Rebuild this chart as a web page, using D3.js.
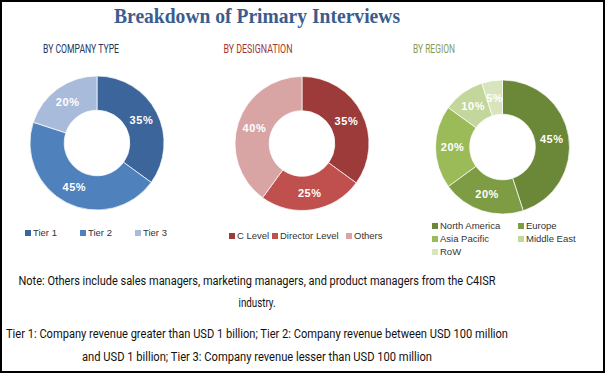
<!DOCTYPE html>
<html>
<head>
<meta charset="utf-8">
<script src="https://cdn.jsdelivr.net/npm/d3@7"></script>
<style>
  body { margin: 0; background: #fff; }
  svg { display: block; }
</style>
</head>
<body>
<svg id="chart"></svg>
<script>
// size of the picture
var width = 605,
    height = 373;

// data
var companyTypes = ["Tier 1", "Tier 2", "Tier 3"];
var companyShares = [35, 45, 20];

var designations = ["C Level", "Director Level", "Others"];
var designationShares = [35, 25, 40];

var regions = ["North America", "Europe", "Asia Pacific", "Middle East", "RoW"];
var regionShares = [45, 20, 20, 10, 5];

var notes = [
  "Note: Others include sales managers, marketing managers, and product managers from the C4ISR",
  "industry.",
  "Tier 1: Company revenue greater than USD 1 billion; Tier 2: Company revenue between USD 100 million",
  "and USD 1 billion; Tier 3: Company revenue lesser than USD 100 million"
];

var svg = d3.select("#chart")
    .attr("width", width)
    .attr("height", height);

// frame
svg.append("rect")
    .attr("x", 1).attr("y", 1)
    .attr("width", width - 2).attr("height", height - 2)
    .attr("fill", "#fff")
    .attr("stroke", "#000")
    .attr("stroke-width", 2);

// title
svg.append("text")
    .attr("x", 257).attr("y", 23)
    .attr("text-anchor", "middle")
    .attr("font-family", "Liberation Serif, serif")
    .attr("font-weight", "bold")
    .attr("font-size", 21)
    .attr("fill", "#3b5d8d")
    .attr("textLength", 286)
    .attr("lengthAdjust", "spacingAndGlyphs")
    .text("Breakdown of Primary Interviews");

var pie = d3.pie().sort(null).value(function(d) { return d.value; });

// one donut with its heading and legend
function donut(opts) {
  var g = svg.append("g");

  g.append("text")
      .attr("x", opts.headX).attr("y", 53)
      .attr("text-anchor", "middle")
      .attr("font-family", "Roboto, sans-serif")
      .attr("font-size", 12.5)
      .attr("fill", opts.headColor)
      .attr("textLength", opts.headLen)
      .attr("lengthAdjust", "spacingAndGlyphs")
      .text(opts.head);

  var data = opts.names.map(function(n, i) { return {name: n, value: opts.values[i]}; });
  var color = d3.scaleOrdinal().domain(opts.names).range(opts.colors);
  var arc = d3.arc().innerRadius(opts.r * 0.49).outerRadius(opts.r);

  var pg = g.append("g").attr("transform", "translate(" + opts.cx + "," + opts.cy + ")");
  var arcs = pie(data);

  pg.selectAll("path")
    .data(arcs)
    .enter().append("path")
      .attr("d", arc)
      .attr("fill", function(d) { return color(d.data.name); })
      .attr("stroke", "#fff")
      .attr("stroke-width", 0.7);

  pg.selectAll("text")
    .data(arcs)
    .enter().append("text")
      .attr("transform", function(d) { return "translate(" + arc.centroid(d) + ")"; })
      .attr("dy", "0.35em")
      .attr("text-anchor", "middle")
      .attr("font-family", "Liberation Sans, sans-serif")
      .attr("font-weight", "bold")
      .attr("font-size", 11)
      .attr("letter-spacing", 0.6)
      .attr("fill", "#fff")
      .text(function(d) { return d.data.value + "%"; });

  // legend
  var lg = g.selectAll(".leg")
    .data(data)
    .enter().append("g")
      .attr("transform", function(d, i) { return "translate(" + opts.legX[i] + "," + opts.legY[i] + ")"; });

  lg.append("rect")
      .attr("x", 0).attr("y", -3)
      .attr("width", 6).attr("height", 6)
      .attr("fill", function(d) { return color(d.name); });

  lg.append("text")
      .attr("x", 8).attr("y", 0)
      .attr("dy", "0.35em")
      .attr("font-family", "Liberation Sans, sans-serif")
      .attr("font-size", 9.5)
      .attr("fill", "#333")
      .text(function(d) { return d.name; });
}

donut({
  head: "BY COMPANY TYPE", headX: 81, headLen: 76, headColor: "#283558",
  names: companyTypes, values: companyShares,
  colors: ["#3c659b", "#4f81bd", "#a9bbdb"],
  cx: 97, cy: 143, r: 67,
  legX: [25, 80, 135], legY: [233, 233, 233]
});

donut({
  head: "BY DESIGNATION", headX: 258, headLen: 69, headColor: "#a43735",
  names: designations, values: designationShares,
  colors: ["#9c3b39", "#c0504d", "#d9a5a4"],
  cx: 302, cy: 143.5, r: 67,
  legX: [229, 272, 346], legY: [236, 236, 236]
});

donut({
  head: "BY REGION", headX: 434, headLen: 42, headColor: "#8a9c4a",
  names: regions, values: regionShares,
  colors: ["#6b8838", "#7d9c44", "#9bbb59", "#c3d69b", "#d8e4bc"],
  cx: 502.5, cy: 147, r: 67,
  legX: [432, 518, 432, 518, 432], legY: [226, 226, 239, 239, 252]
});

// notes under the charts
svg.selectAll(".note")
  .data(notes)
  .enter().append("text")
    .attr("x", 257)
    .attr("y", function(d, i) { return [285, 307, 338, 361][i]; })
    .attr("text-anchor", "middle")
    .attr("font-family", "Roboto, sans-serif")
    .attr("font-size", 12.5)
    .attr("fill", "#111")
    .attr("textLength", function(d, i) { return [477, 37, 502, 350][i]; })
    .attr("lengthAdjust", "spacingAndGlyphs")
    .text(function(d) { return d; });
</script>
</body>
</html>
